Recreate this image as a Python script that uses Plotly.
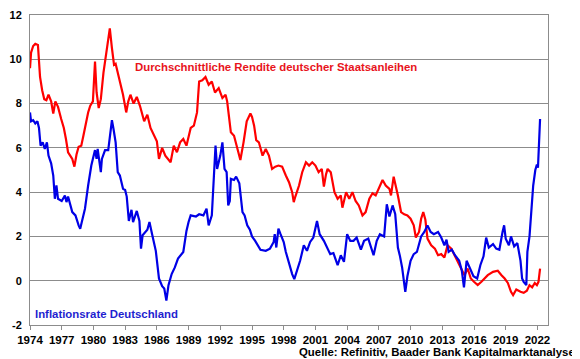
import plotly.graph_objects as go

# --- Durchschnittliche Rendite deutscher Staatsanleihen (%) ---
rendite_t = [1974.0,1974.1,1974.3,1974.5,1974.75,1974.95,1975.15,1975.35,1975.55,1975.75,1976.0,1976.2,1976.4,1976.65,1976.95,
 1977.2,1977.4,1977.6,1977.8,1978.0,1978.2,1978.4,1978.6,1978.85,1979.05,1979.3,1979.5,1979.7,1979.95,1980.15,1980.3,1980.5,
 1980.7,1980.95,1981.2,1981.45,1981.55,1981.75,1981.95,1982.1,1982.35,1982.5,1982.8,1983.1,1983.3,1983.5,1983.8,1984.1,1984.4,
 1984.8,1985.1,1985.4,1985.7,1986.0,1986.2,1986.5,1986.8,1987.3,1987.6,1987.9,1988.2,1988.5,1988.8,1989.2,1989.5,1989.8,1990.0,
 1990.3,1990.6,1990.9,1991.2,1991.5,1991.85,1992.2,1992.5,1992.65,1992.8,1993.0,1993.3,1993.6,1993.9,1994.2,1994.5,1994.85,
 1995.0,1995.2,1995.4,1995.65,1996.0,1996.3,1996.6,1996.9,1997.2,1997.5,1997.85,1998.2,1998.5,1998.8,1998.95,1999.1,1999.45,
 1999.75,2000.1,2000.4,2000.7,2001.0,2001.3,2001.6,2001.8,2002.0,2002.15,2002.45,2002.8,2003.1,2003.4,2003.55,2003.9,2004.2,
 2004.5,2004.8,2005.1,2005.45,2005.75,2006.1,2006.4,2006.7,2007.0,2007.35,2007.65,2008.0,2008.15,2008.4,2008.8,2009.1,2009.4,
 2009.7,2010.0,2010.3,2010.5,2010.8,2011.0,2011.2,2011.4,2011.6,2011.95,2012.3,2012.6,2012.9,2013.2,2013.5,2013.85,2014.15,
 2014.45,2014.8,2015.1,2015.4,2015.7,2016.0,2016.35,2016.7,2017.0,2017.3,2017.8,2018.25,2018.6,2018.9,2019.2,2019.5,2019.7,
 2020.0,2020.4,2020.7,2021.0,2021.25,2021.5,2021.75,2021.95,2022.1,2022.25]
rendite_v = [9.6,10.3,10.6,10.7,10.65,9.2,8.6,8.2,8.15,8.4,8.1,7.55,8.1,7.85,7.3,
 6.9,6.4,5.8,5.65,5.5,5.15,5.7,6.05,6.1,6.55,7.2,7.6,7.9,8.1,9.9,8.5,7.8,
 8.2,9.4,10.3,11.25,11.4,10.5,9.75,9.8,9.3,9.0,8.4,7.6,8.1,8.4,8.0,8.3,7.9,
 7.2,7.5,6.9,6.6,6.3,5.5,6.0,5.65,5.35,6.1,5.8,6.25,6.4,6.1,6.9,7.0,7.6,9.0,
 9.05,9.2,8.85,9.0,8.5,8.7,8.25,8.4,8.1,7.5,6.7,6.55,5.95,5.45,6.25,7.2,7.55,
 7.4,7.0,6.35,6.25,5.65,5.95,5.65,5.05,5.15,5.2,5.15,4.75,4.45,4.0,3.55,3.8,4.3,
 4.9,5.35,5.2,5.35,5.2,4.9,5.05,4.25,4.8,5.05,4.9,4.0,3.7,3.85,3.3,4.0,3.7,
 4.0,3.6,3.4,2.95,3.1,3.7,3.95,3.85,4.15,4.55,4.3,4.15,3.85,4.7,3.85,3.1,3.0,
 2.95,2.8,2.5,1.95,2.2,2.8,3.1,2.75,1.9,1.6,1.45,1.15,1.2,1.05,1.6,1.45,1.15,
 0.85,0.55,0.25,0.55,0.1,-0.05,-0.2,-0.05,0.1,0.25,0.4,0.45,0.25,0.1,-0.1,-0.5,-0.65,
 -0.4,-0.5,-0.55,-0.45,-0.2,-0.3,-0.1,-0.2,-0.05,0.55]

# --- Inflationsrate Deutschland (%) ---
inflation_t = [1974.0,1974.1,1974.3,1974.5,1974.7,1974.85,1975.0,1975.2,1975.4,1975.6,1975.75,1976.0,1976.2,1976.35,1976.5,
 1976.65,1977.0,1977.3,1977.45,1977.6,1978.0,1978.3,1978.6,1978.75,1978.9,1979.2,1979.5,1979.8,1980.15,1980.3,1980.4,1980.7,
 1980.8,1981.1,1981.4,1981.75,1981.9,1982.1,1982.3,1982.5,1982.8,1983.0,1983.15,1983.35,1983.6,1983.75,1984.1,1984.35,1984.5,
 1984.65,1985.1,1985.3,1985.55,1985.75,1985.9,1986.2,1986.5,1986.7,1986.9,1987.1,1987.4,1987.7,1988.0,1988.5,1988.8,1989.0,
 1989.2,1989.7,1990.0,1990.4,1990.7,1990.9,1991.2,1991.4,1991.55,1991.7,1992.0,1992.2,1992.4,1992.6,1992.75,1992.9,1993.0,
 1993.3,1993.5,1993.8,1994.1,1994.3,1994.55,1994.8,1995.0,1995.3,1995.55,1995.8,1996.3,1996.7,1997.05,1997.15,1997.3,1997.5,
 1997.7,1998.0,1998.2,1998.5,1998.8,1999.0,1999.25,1999.55,1999.9,2000.2,2000.5,2000.8,2001.15,2001.4,2001.8,2002.1,2002.4,
 2002.7,2003.1,2003.4,2003.7,2004.0,2004.3,2004.6,2004.9,2005.3,2005.6,2006.0,2006.5,2006.8,2007.1,2007.5,2007.75,2008.0,
 2008.3,2008.55,2008.8,2009.0,2009.2,2009.5,2009.7,2010.0,2010.3,2010.6,2011.0,2011.3,2011.6,2011.9,2012.2,2012.6,2012.9,
 2013.2,2013.4,2013.6,2013.9,2014.2,2014.6,2014.85,2015.05,2015.3,2015.6,2015.95,2016.3,2016.6,2016.9,2017.15,2017.4,2017.8,
 2018.1,2018.4,2018.7,2018.85,2019.0,2019.3,2019.5,2019.8,2020.1,2020.4,2020.55,2020.7,2020.95,2021.05,2021.25,2021.5,2021.6,
 2021.8,2021.95,2022.05,2022.15,2022.25]
inflation_v = [7.6,7.2,7.25,7.1,7.2,6.9,6.1,6.25,5.95,6.25,5.65,5.3,4.75,3.7,4.3,
 3.7,3.6,3.85,3.55,3.8,3.1,2.95,2.5,2.35,2.65,3.25,4.3,5.2,5.9,5.5,5.95,4.9,
 5.5,5.9,5.9,7.25,6.85,6.25,4.9,4.75,4.15,4.1,3.8,2.7,3.2,2.65,3.15,2.7,1.45,
 2.05,2.3,2.65,2.1,1.6,1.35,0.1,-0.25,-0.35,-0.9,-0.2,0.3,0.6,1.0,1.3,2.25,2.65,
 2.95,2.9,3.0,2.95,3.25,2.5,2.95,4.75,6.1,5.05,5.65,6.25,5.05,4.9,3.4,3.6,4.6,
 4.55,4.7,4.4,3.1,2.95,2.5,2.3,2.0,1.8,1.6,1.4,1.35,1.45,1.75,2.1,1.5,2.35,
 2.1,1.75,1.3,0.75,0.3,0.07,0.45,0.9,1.6,1.35,1.75,1.95,2.7,2.1,1.8,1.5,1.2,
 1.25,0.7,1.15,0.85,2.1,1.8,1.8,1.95,1.4,1.8,1.9,1.15,1.8,2.1,2.0,3.45,2.9,
 3.4,3.0,1.5,1.1,0.6,-0.5,0.2,0.9,1.2,1.3,2.0,2.2,2.5,2.2,2.1,2.2,1.95,
 1.6,1.85,1.3,1.4,1.15,0.9,0.45,-0.3,0.9,0.6,0.2,0.1,0.7,1.1,1.95,1.5,1.65,
 1.45,1.4,2.2,2.5,1.9,1.6,2.0,1.55,1.7,0.9,0.1,-0.05,-0.2,1.3,2.0,3.8,4.3,
 5.0,5.25,5.1,6.0,7.3]

tick_years = list(range(1974, 2023, 3))
tick_labels = [str(y) for y in tick_years]
y_ticks = [-2, 0, 2, 4, 6, 8, 10, 12]

FONT = "Liberation Sans, Arial, sans-serif"
RED = "#FF0000"
BLUE = "#0000E6"
GRID = "#8c8c8c"

# The page body adds an 8 px offset; the figure is sized so that the plot
# area lands at x 30..548, y 15..325 of the 580x359 window.
OFF = 8
L, R, T, B = 30 - OFF, 32, 15 - OFF, 34
W, H = 580 - OFF, 359 - OFF
PW, PH = W - L - R, H - T - B

fig = go.Figure()
fig.add_trace(go.Scatter(x=rendite_t, y=rendite_v, mode="lines",
                         line=dict(color=RED, width=2.2), showlegend=False))
fig.add_trace(go.Scatter(x=inflation_t, y=inflation_v, mode="lines",
                         line=dict(color=BLUE, width=2.2), showlegend=False))

fig.update_layout(
    width=W, height=H,
    margin=dict(l=L, r=R, t=T, b=B, autoexpand=False),
    paper_bgcolor="white", plot_bgcolor="white",
    font=dict(family=FONT, size=11, color="black"),
    xaxis=dict(range=[1974, 2023.0], tickmode="array", tickvals=tick_years, ticktext=tick_labels,
               automargin=False,
               showgrid=False, zeroline=False, showline=True, linecolor=GRID, linewidth=1,
               mirror=True, ticks="outside", ticklen=4, tickcolor=GRID,
               tickfont=dict(family=FONT, size=11.5, color="black", weight="bold")),
    yaxis=dict(range=[-2, 12], tickmode="array", tickvals=y_ticks,
               ticktext=[str(v) for v in y_ticks], automargin=False,
               showgrid=True, gridcolor=GRID, gridwidth=1, zeroline=False,
               showline=True, linecolor=GRID, linewidth=1, mirror=True, ticks="",
               ticklabelstandoff=5,
               tickfont=dict(family=FONT, size=11, color="black", weight="bold")),
    annotations=[
        dict(text="Durchschnittliche Rendite deutscher Staatsanleihen", xref="paper", yref="paper",
             x=(133 - 30) / PW, y=(325 - 67.5) / PH, xanchor="left", yanchor="middle", showarrow=False,
             font=dict(family=FONT, size=11.4, color="#E8141C", weight="bold")),
        dict(text="Inflationsrate Deutschland", xref="paper", yref="paper",
             x=(32.5 - 30) / PW, y=(325 - 314) / PH, xanchor="left", yanchor="middle", showarrow=False,
             font=dict(family=FONT, size=11.4, color="#1F1FD0", weight="bold")),
        dict(text="Quelle: Refinitiv, Baader Bank Kapitalmarktanalyse", xref="paper", yref="paper",
             x=(577 - 30) / PW, y=(325 - 352) / PH, xanchor="right", yanchor="middle", showarrow=False,
             font=dict(family=FONT, size=11.4, color="black", weight="bold")),
    ],
)

fig.write_html("out.html")
